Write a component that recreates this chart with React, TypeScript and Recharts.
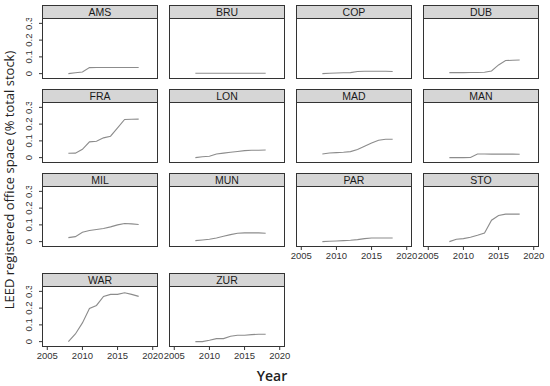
import { LineChart, Line, XAxis, YAxis } from 'recharts'

const years = [2008, 2009, 2010, 2011, 2012, 2013, 2014, 2015, 2016, 2017, 2018]
const cityNames = ['AMS', 'BRU', 'COP', 'DUB', 'FRA', 'LON', 'MAD', 'MAN', 'MIL', 'MUN', 'PAR', 'STO', 'WAR', 'ZUR']

const ams = [0, 0.005, 0.01, 0.036, 0.037, 0.037, 0.037, 0.037, 0.037, 0.037, 0.037]
const bru = [0.002, 0.002, 0.002, 0.002, 0.002, 0.002, 0.002, 0.002, 0.002, 0.002, 0.002]
const cop = [0, 0.002, 0.004, 0.005, 0.006, 0.013, 0.014, 0.014, 0.014, 0.014, 0.013]
const dub = [0.006, 0.006, 0.006, 0.007, 0.007, 0.008, 0.016, 0.052, 0.078, 0.08, 0.081]
const fra = [0.026, 0.027, 0.05, 0.094, 0.098, 0.118, 0.128, 0.178, 0.228, 0.229, 0.23]
const lon = [0, 0.005, 0.008, 0.022, 0.027, 0.032, 0.037, 0.042, 0.044, 0.044, 0.046]
const mad = [0.022, 0.028, 0.03, 0.032, 0.036, 0.048, 0.068, 0.088, 0.104, 0.11, 0.11]
const man = [0, 0, 0, 0.001, 0.022, 0.022, 0.021, 0.021, 0.021, 0.021, 0.02]
const mil = [0.024, 0.03, 0.056, 0.066, 0.072, 0.078, 0.088, 0.1, 0.108, 0.106, 0.102]
const mun = [0.006, 0.01, 0.014, 0.022, 0.032, 0.042, 0.05, 0.052, 0.052, 0.052, 0.05]
const par = [0, 0.002, 0.004, 0.006, 0.008, 0.012, 0.018, 0.022, 0.022, 0.022, 0.022]
const sto = [0, 0.014, 0.018, 0.026, 0.038, 0.052, 0.128, 0.156, 0.164, 0.164, 0.164]
const war = [0, 0.046, 0.112, 0.198, 0.216, 0.27, 0.282, 0.282, 0.292, 0.282, 0.27]
const zur = [0, 0, 0.008, 0.018, 0.018, 0.032, 0.038, 0.038, 0.042, 0.044, 0.044]

const cityValues = [ams, bru, cop, dub, fra, lon, mad, man, mil, mun, par, sto, war, zur]

const xTicks = [2005, 2010, 2015, 2020]
const yTicks = [0, 0.1, 0.2, 0.3]

const COL_X = [42, 169, 296, 423]
const ROW_Y = [5, 89, 173, 273]
const STRIP_H = 13
const PANEL_W = 116
const PANEL_H = 61
const FONT = '"Liberation Sans", Arial, sans-serif'

function YTick(props: any) {
  const { x, y, payload } = props
  return (
    <text
      x={x - 5}
      y={y}
      transform={`rotate(-90, ${x - 5}, ${y})`}
      textAnchor="middle"
      fontSize={9.5}
      fontFamily={FONT}
      fill="#333"
    >
      {payload.value}
    </text>
  )
}

function Panel({ index }: { index: number }) {
  const row = Math.floor(index / 4)
  const col = index % 4
  const left = COL_X[col]
  const top = ROW_Y[row]
  const showY = col === 0
  const showX = index + 4 >= cityNames.length
  const data = years.map((year, i) => ({ year, value: cityValues[index][i] }))

  return (
    <>
      <div
        style={{
          position: 'absolute',
          left: left - 40,
          top: top + STRIP_H,
          width: 40 + PANEL_W + 14,
          height: PANEL_H + 22,
        }}
      >
        <LineChart
          width={40 + PANEL_W + 14}
          height={PANEL_H + 22}
          data={data}
          margin={{ top: 0, right: 14, bottom: showX ? 0 : 22, left: showY ? 20 : 40 }}
        >
          <XAxis
            dataKey="year"
            type="number"
            domain={[2004.25, 2020.75]}
            ticks={xTicks}
            hide={!showX}
            height={22}
            axisLine={false}
            tickSize={3}
            tickLine={{ stroke: '#333' }}
            tick={{ fontSize: 9.5, fill: '#333', fontFamily: FONT }}
            interval={0}
          />
          <YAxis
            type="number"
            domain={[-0.032, 0.332]}
            ticks={yTicks}
            hide={!showY}
            width={20}
            axisLine={false}
            tickSize={3}
            tickLine={{ stroke: '#333' }}
            tick={<YTick />}
            interval={0}
            allowDataOverflow
          />
          <Line
            type="linear"
            dataKey="value"
            stroke="#8c8c8c"
            strokeWidth={1.1}
            dot={false}
            isAnimationActive={false}
          />
        </LineChart>
      </div>
      <div
        style={{
          position: 'absolute',
          left,
          top,
          width: PANEL_W,
          height: STRIP_H + 1,
          boxSizing: 'border-box',
          background: '#d6d6d6',
          border: '1px solid #333',
          fontFamily: FONT,
          fontSize: 10.5,
          lineHeight: `${STRIP_H - 1}px`,
          textAlign: 'center',
          color: '#1a1a1a',
        }}
      >
        {cityNames[index]}
      </div>
      <div
        style={{
          position: 'absolute',
          left,
          top: top + STRIP_H,
          width: PANEL_W,
          height: PANEL_H,
          boxSizing: 'border-box',
          border: '1px solid #333',
          pointerEvents: 'none',
        }}
      />
    </>
  )
}

export default function App() {
  return (
    <div style={{ position: 'absolute', left: 0, top: 0, width: 550, height: 386, background: '#fff', overflow: 'hidden' }}>
      {cityNames.map((_, i) => (
        <Panel key={i} index={i} />
      ))}
      <div
        style={{
          position: 'absolute',
          left: 9,
          top: 180,
          transform: 'translate(-50%, -50%) rotate(-90deg)',
          whiteSpace: 'nowrap',
          fontFamily: '"Open Sans", sans-serif',
          fontSize: 13,
          color: '#222',
        }}
      >
        LEED registered office space (% total stock)
      </div>
      <div
        style={{
          position: 'absolute',
          left: 272,
          top: 375,
          transform: 'translate(-50%, -50%)',
          whiteSpace: 'nowrap',
          fontFamily: '"Open Sans", sans-serif',
          fontSize: 14,
          fontWeight: 600,
          color: '#222',
        }}
      >
        Year
      </div>
    </div>
  )
}
